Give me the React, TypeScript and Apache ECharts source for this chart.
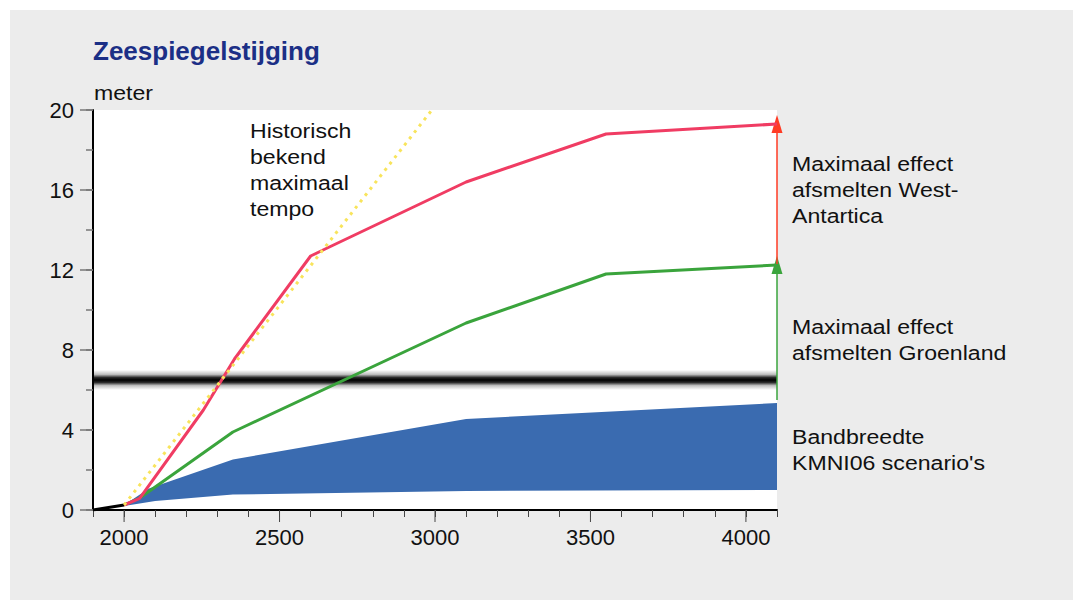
import React, { useEffect, useRef } from 'react';
import * as echarts from 'echarts';

// ---- data (years, metres) ----
const historicLine = [[1900, 0], [2000, 0.25]];
const westAntarctica = [[2000, 0.25], [2050, 0.58], [2255, 5.0], [2355, 7.55], [2600, 12.7], [2640, 13.0], [3100, 16.4], [3550, 18.8], [4100, 19.3]];
const greenland = [[2000, 0.25], [2050, 0.6], [2350, 3.9], [3100, 9.35], [3550, 11.8], [4100, 12.25]];
const maxTempo = [[2000, 0.25], [2990, 20]];
const bandUpper = [[2000, 0.25], [2080, 1.08], [2350, 2.53], [3100, 4.55], [4100, 5.35]];
const bandLower = [[2000, 0.2], [2100, 0.45], [2350, 0.77], [3100, 0.95], [4100, 1.0]];
const historicLevel = [6.0, 7.0];
const arrowWest = [4100, 12.3, 19.3];
const arrowGreenland = [4100, 5.5, 12.25];
const xMajorTicks = [2000, 2500, 3000, 3500, 4000];
const yLabelStep = 4;
const xLabelStep = 500;

const FONT = '"Liberation Sans", Arial, Helvetica, sans-serif';

export default function App() {
  const ref = useRef<HTMLDivElement>(null);
  useEffect(() => {
    if (!ref.current) return;
    const chart = echarts.init(ref.current, null, { renderer: 'svg' });
    const textStyle = (text: string, extra: any = {}) => ({
      text,
      fontSize: 21,
      fontFamily: FONT,
      fill: '#111',
      lineHeight: 26,
      align: 'left',
      verticalAlign: 'top',
      ...extra,
    });
    const option: any = {
      animation: false,
      grid: {
        left: 93, right: 296, top: 110, bottom: 90,
        show: true, backgroundColor: '#ffffff', borderWidth: 0,
      },
      xAxis: [{
        type: 'value', min: 1900, max: 4100, interval: 100,
        axisLine: { show: true, onZero: false, lineStyle: { color: '#000', width: 2 } },
        axisTick: { show: true, length: 7, lineStyle: { color: '#444', width: 1 } },
        splitLine: { show: false },
        axisLabel: {
          fontSize: 22, fontFamily: FONT, color: '#111', margin: 16,
          formatter: (v: number) => (v % xLabelStep === 0 ? String(v) : ''),
        },
      }],
      yAxis: [{
        type: 'value', min: 0, max: 20, interval: 2, position: 'left',
        axisLine: { show: true, lineStyle: { color: '#000', width: 2 } },
        axisTick: { show: true, length: 7, lineStyle: { color: '#777', width: 1.5 } },
        splitLine: { show: false },
        axisLabel: {
          fontSize: 22, fontFamily: FONT, color: '#111', margin: 19,
          formatter: (v: number) => (v % yLabelStep === 0 ? String(v) : ''),
        },
      }, {
        type: 'value', min: 0, max: 20, interval: yLabelStep, position: 'left', offset: 0,
        axisLine: { show: false },
        axisTick: { show: true, length: 13, lineStyle: { color: '#777', width: 1.5 } },
        axisLabel: { show: false },
        splitLine: { show: false },
      }],
      graphic: {
        elements: [
          { type: 'text', x: 93, y: 51, style: textStyle('Zeespiegelstijging', { fontSize: 26, fontWeight: 'bold', fill: '#1b2f86', verticalAlign: 'middle', lineHeight: 30 }) },
          { type: 'text', x: 94, y: 93, scaleX: 1.1, style: textStyle('meter', { verticalAlign: 'middle' }) },
          { type: 'text', x: 250, y: 118, scaleX: 1.1, style: textStyle('Historisch\nbekend\nmaximaal\ntempo') },
          { type: 'text', x: 792, y: 151, scaleX: 1.1, style: textStyle('Maximaal effect\nafsmelten West-\nAntartica') },
          { type: 'text', x: 792, y: 314, scaleX: 1.1, style: textStyle('Maximaal effect\nafsmelten Groenland') },
          { type: 'text', x: 792, y: 424, scaleX: 1.1, style: textStyle("Bandbreedte\nKMNI06 scenario's") },
        ],
      },
      series: [
        {
          type: 'custom', name: 'band', z: 1, silent: true,
          data: [[bandUpper[0][0], bandUpper[0][1]]],
          renderItem: (_p: any, api: any) => {
            const pts = bandUpper.map((d) => api.coord(d)).concat(bandLower.slice().reverse().map((d) => api.coord(d)));
            return { type: 'polygon', shape: { points: pts }, style: { fill: '#3a6bb0' } };
          },
        },
        {
          type: 'line', name: 'historic', z: 2, data: [], silent: true,
          markArea: {
            silent: true,
            itemStyle: {
              color: {
                type: 'linear', x: 0, y: 0, x2: 0, y2: 1,
                colorStops: [
                  { offset: 0, color: 'rgba(0,0,0,0)' },
                  { offset: 0.22, color: 'rgba(0,0,0,0.25)' },
                  { offset: 0.38, color: 'rgba(0,0,0,0.85)' },
                  { offset: 0.5, color: 'rgba(0,0,0,1)' },
                  { offset: 0.62, color: 'rgba(0,0,0,0.85)' },
                  { offset: 0.78, color: 'rgba(0,0,0,0.25)' },
                  { offset: 1, color: 'rgba(0,0,0,0)' },
                ],
              },
            },
            data: [[{ yAxis: historicLevel[0] }, { yAxis: historicLevel[1] }]],
          },
        },
        {
          type: 'line', name: 'black', z: 4, data: historicLine, symbol: 'none',
          lineStyle: { color: '#000', width: 3 },
        },
        {
          type: 'line', name: 'green', z: 4, data: greenland, symbol: 'none',
          lineStyle: { color: '#3aa43c', width: 3 },
          markLine: {
            silent: true, symbol: ['none', 'triangle'], symbolSize: [11, 18],
            lineStyle: { color: '#3aa43c', width: 1.5, type: 'solid' },
            label: { show: false },
            data: [[{ coord: [arrowGreenland[0], arrowGreenland[1]] }, { coord: [arrowGreenland[0], arrowGreenland[2]] }]],
          },
        },
        {
          type: 'line', name: 'red', z: 5, data: westAntarctica, symbol: 'none',
          lineStyle: { color: '#f03c63', width: 3 },
          markLine: {
            silent: true, symbol: ['none', 'triangle'], symbolSize: [11, 18],
            lineStyle: { color: '#ff3b24', width: 1.5, type: 'solid' },
            label: { show: false },
            data: [[{ coord: [arrowWest[0], arrowWest[1]] }, { coord: [arrowWest[0], arrowWest[2]] }]],
          },
        },
        {
          type: 'line', name: 'yellow', z: 6, data: maxTempo, symbol: 'none',
          lineStyle: { color: '#f8e45c', width: 3, type: [3, 5] },
        },
        {
          type: 'custom', name: 'xMajorTicks', z: 7, silent: true,
          data: xMajorTicks.map((v) => [v, 0]),
          renderItem: (_p: any, api: any) => {
            const p = api.coord([api.value(0), api.value(1)]);
            return { type: 'line', shape: { x1: p[0], y1: p[1], x2: p[0], y2: p[1] + 12 }, style: { stroke: '#444', lineWidth: 1 } };
          },
        },
      ],
    };
    chart.setOption(option);
    return () => chart.dispose();
  }, []);

  return (
    <div style={{ position: 'fixed', left: 0, top: 0, width: 1073, height: 600, background: '#ffffff' }}>
      <div style={{ position: 'absolute', left: 10, top: 10, right: 0, bottom: 0, background: '#ececec' }} />
      <div ref={ref} style={{ position: 'absolute', left: 0, top: 0, width: 1073, height: 600 }} />
    </div>
  );
}
